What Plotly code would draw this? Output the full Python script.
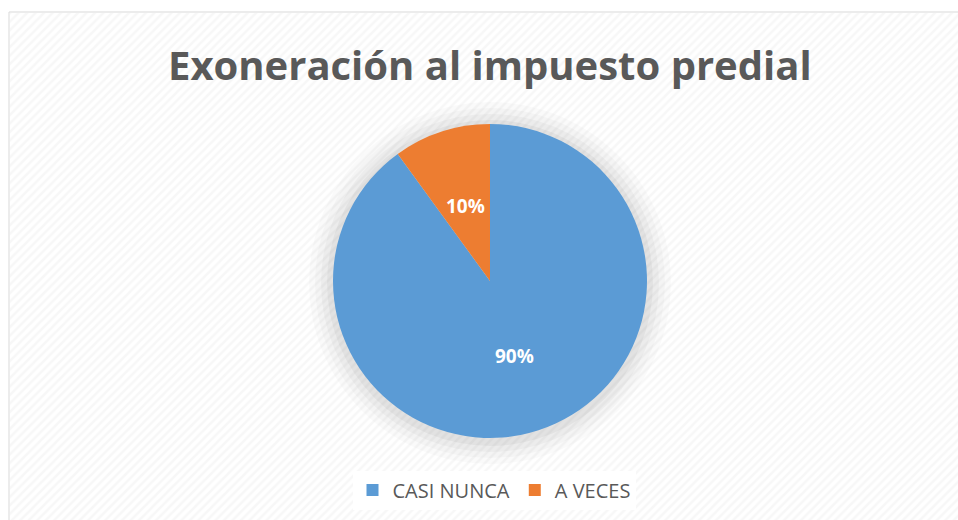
import plotly.graph_objects as go
import math

labels = ["CASI NUNCA", "A VECES"]
values = [90, 10]
colors = ["#5B9BD5", "#ED7D31"]
title_text = "Exoneración al impuesto predial"

W, H = 958, 520
cx, cy, r = 490, 281, 157

fig = go.Figure()

# hatched background via pattern-filled scatter on hidden axes (transparent base so shadow shows)
fig.add_trace(go.Scatter(
    x=[0, 1, 1, 0, 0], y=[0, 0, 1, 1, 0], mode="lines", fill="toself",
    line=dict(width=0), fillcolor="rgba(0,0,0,0)",
    fillpattern=dict(shape="/", fgcolor="rgba(0,0,0,0.065)", bgcolor="rgba(0,0,0,0)", size=6, solidity=0.4),
    hoverinfo="skip", showlegend=False, xaxis="x", yaxis="y"))

fig.add_trace(go.Pie(
    labels=labels, values=values, sort=False, direction="clockwise", rotation=0,
    marker=dict(colors=colors, line=dict(width=0)),
    textinfo="none",
    domain=dict(x=[(cx - r) / W, (cx + r) / W], y=[1 - (cy + r) / H, 1 - (cy - r) / H]),
    hoverinfo="label+percent",
))

total = sum(values)
annotations = [dict(text="<b>" + title_text + "</b>", x=490 / W, y=1 - 64 / H, xref="paper", yref="paper",
                    xanchor="center", yanchor="middle", showarrow=False,
                    font=dict(family="Open Sans", size=40, color="#595959"))]
start = 0.0
for lab, v in zip(labels, values):
    frac = v / total
    mid = (start + frac / 2) * 2 * math.pi
    px = cx + 0.5 * r * math.sin(mid)
    py = cy - 0.5 * r * math.cos(mid)
    annotations.append(dict(text="<b>%d%%</b>" % round(frac * 100), x=px / W, y=1 - py / H,
                            xref="paper", yref="paper", xanchor="center", yanchor="middle",
                            showarrow=False, font=dict(family="Open Sans", size=19, color="white")))
    start += frac

shapes = []
for k, a in [(24, 0.02), (18, 0.025), (12, 0.03), (6, 0.04)]:
    rr = r + k
    shapes.append(dict(type="circle", xref="paper", yref="paper", layer="below",
                       x0=(cx - rr) / W, x1=(cx + rr) / W, y0=1 - (cy + 2 + rr) / H, y1=1 - (cy + 2 - rr) / H,
                       fillcolor="rgba(0,0,0,%g)" % a, line=dict(width=0)))
shapes.append(dict(type="rect", xref="paper", yref="paper", x0=9 / W, x1=1.01, y0=-0.01, y1=1 - 12 / H,
                   line=dict(color="#d9d9d9", width=1)))

fig.update_layout(
    width=W, height=H, margin=dict(l=0, r=0, t=0, b=0),
    paper_bgcolor="white", plot_bgcolor="rgba(0,0,0,0)",
    xaxis=dict(visible=False, range=[0, 1], domain=[10 / W, 1], fixedrange=True),
    yaxis=dict(visible=False, range=[0, 1], domain=[0, 1 - 13 / H], fixedrange=True),
    showlegend=True,
    legend=dict(orientation="h", x=494 / W, xanchor="center", y=1 - 490 / H, yanchor="middle",
                bgcolor="white", font=dict(family="Open Sans", size=20, color="#595959"),
                itemwidth=30, traceorder="normal"),
    annotations=annotations,
    shapes=shapes,
)

fig.write_html("out.html", config={"displayModeBar": False},
               post_script="document.body.style.margin='0';")
